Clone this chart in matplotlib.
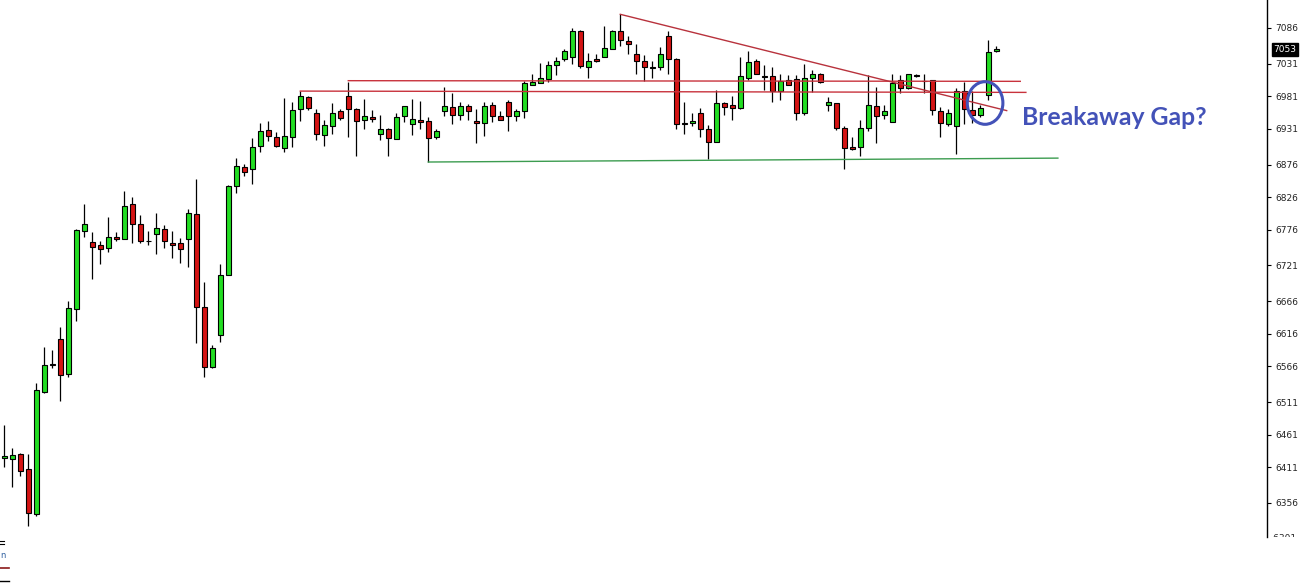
import matplotlib
matplotlib.use("Agg")
import matplotlib.pyplot as plt
from matplotlib.patches import Ellipse
from matplotlib.lines import Line2D
from matplotlib.transforms import Bbox, TransformedBbox, blended_transform_factory

# daily candles
opens = [6425, 6424, 6431, 6408, 6339, 6527, 6570, 6608, 6554, 6654,
         6774, 6757, 6752, 6748, 6764, 6761, 6816, 6784, 6759, 6770,
         6777, 6755, 6755, 6761, 6800, 6657, 6565, 6614, 6706, 6843,
         6873, 6869, 6904, 6929, 6918, 6901, 6918, 6961, 6980, 6956,
         6921, 6935, 6958, 6981, 6961, 6944, 6949, 6923, 6930, 6915,
         6950, 6938, 6944, 6943, 6918, 6958, 6964, 6953, 6966, 6943,
         6940, 6967, 6950, 6973, 6950, 6958, 6999, 7001, 7007, 7029,
         7038, 7042, 7082, 7026, 7038, 7042, 7053, 7082, 7066, 7046,
         7036, 7026, 7026, 7073, 7039, 6940, 6940, 6955, 6930, 6910,
         6970, 6967, 6963, 7009, 7035, 7012, 7012, 6989, 7006, 7007,
         6955, 7009, 7016, 6967, 6970, 6933, 6903, 6903, 6933, 6966,
         6952, 6941, 7006, 6993, 7013, 7004, 7006, 6958, 6938, 6936,
         6989, 6960, 6952, 6983, 7050]
highs = [6476, 6441, 6433, 6432, 6540, 6596, 6591, 6627, 6667, 6777,
         6816, 6772, 6758, 6796, 6772, 6836, 6826, 6799, 6774, 6802,
         6783, 6774, 6763, 6808, 6854, 6696, 6599, 6723, 6845, 6886,
         6877, 6917, 6940, 6943, 6926, 6978, 6972, 6989, 6981, 6961,
         6945, 6970, 6962, 7003, 6963, 6977, 6960, 6953, 6932, 6956,
         6966, 6977, 6974, 6949, 6930, 6995, 6986, 6973, 6969, 6961,
         6973, 6973, 6958, 6976, 6961, 7004, 7016, 7032, 7035, 7041,
         7053, 7086, 7083, 7047, 7046, 7089, 7083, 7107, 7073, 7061,
         7044, 7035, 7056, 7081, 7040, 6973, 6955, 6963, 6937, 6990,
         6972, 6981, 7041, 7050, 7038, 7029, 7026, 7015, 7013, 7013,
         7030, 7022, 7017, 6980, 6971, 6935, 6918, 6944, 7013, 6996,
         6967, 7016, 7013, 7016, 7016, 7016, 7006, 6964, 6961, 6993,
         7003, 6989, 6967, 7067, 7059]
lows = [6411, 6381, 6398, 6320, 6336, 6525, 6564, 6512, 6549, 6636,
        6765, 6700, 6724, 6741, 6758, 6761, 6755, 6755, 6753, 6739,
        6748, 6733, 6725, 6718, 6602, 6550, 6563, 6604, 6706, 6833,
        6859, 6846, 6896, 6913, 6903, 6896, 6903, 6943, 6960, 6914,
        6905, 6923, 6944, 6918, 6890, 6931, 6942, 6914, 6890, 6915,
        6942, 6921, 6930, 6880, 6915, 6950, 6938, 6944, 6944, 6909,
        6920, 6941, 6944, 6927, 6943, 6947, 6999, 7001, 7003, 7013,
        7035, 7030, 7024, 7009, 7033, 7041, 7053, 7059, 7046, 7016,
        7004, 7009, 7022, 7016, 6930, 6923, 6936, 6918, 6884, 6910,
        6953, 6944, 6962, 7006, 7015, 6990, 6973, 6976, 6998, 6944,
        6953, 6987, 7002, 6958, 6929, 6870, 6898, 6889, 6927, 6909,
        6946, 6941, 6986, 6992, 7011, 6986, 6952, 6918, 6936, 6892,
        6939, 6940, 6949, 6976, 7049]
closes = [6428, 6430, 6405, 6340, 6529, 6568, 6568, 6552, 6655, 6775,
          6785, 6750, 6747, 6764, 6761, 6812, 6784, 6758, 6758, 6778,
          6758, 6753, 6746, 6801, 6657, 6565, 6594, 6706, 6843, 6874,
          6864, 6903, 6927, 6920, 6905, 6920, 6960, 6981, 6963, 6923,
          6937, 6956, 6947, 6961, 6943, 6950, 6946, 6930, 6917, 6949,
          6966, 6946, 6941, 6917, 6927, 6966, 6953, 6966, 6958, 6940,
          6966, 6950, 6944, 6950, 6958, 7001, 7003, 7009, 7029, 7036,
          7050, 7082, 7027, 7036, 7036, 7055, 7082, 7067, 7061, 7036,
          7026, 7024, 7046, 7038, 6938, 6938, 6943, 6930, 6910, 6970,
          6964, 6963, 7012, 7033, 7016, 7010, 6989, 7004, 6999, 6956,
          7009, 7016, 7003, 6972, 6932, 6901, 6900, 6932, 6967, 6950,
          6958, 7001, 6993, 7015, 7012, 7004, 6960, 6940, 6955, 6989,
          6961, 6952, 6963, 7049, 7053]

price_ticks = [7086, 7031, 6981, 6931, 6876, 6826, 6776, 6721, 6666,
               6616, 6566, 6511, 6461, 6411, 6356]
last_price = 7053

# drawn lines: (start bar, start price, end bar, end price)
resistance_hi = (43, 7005, 127.0, 7004)
resistance_lo = (37, 6989, 127.7, 6987)
trend_line = (77, 7107, 125.3, 6959)
support_line = (53, 6880, 131.7, 6886)

green = "#22dd22"
red = "#d41414"
blue = "#4352b8"

fig = plt.figure(figsize=(13.01, 5.84), dpi=100)
ax = fig.add_axes([0, 47 / 584, 1267 / 1301, 537 / 584])

n = len(opens)
x = list(range(n))
body_bottom = [min(o, c) for o, c in zip(opens, closes)]
body_height = [max(abs(c - o), 0.6) for o, c in zip(opens, closes)]
colors = [green if c >= o else red for o, c in zip(opens, closes)]

ax.vlines(x, lows, highs, color="black", linewidth=0.9, zorder=2)
ax.bar(x, body_height, bottom=body_bottom, width=0.62, color=colors,
       edgecolor="black", linewidth=0.8, zorder=3)

for seg, col in [(resistance_hi, "#c8323c"), (resistance_lo, "#c8323c"),
                 (trend_line, "#b8323c"), (support_line, "#3c9c50")]:
    ax.plot([seg[0], seg[2]], [seg[1], seg[3]], color=col, linewidth=1.0, zorder=4)

ax.add_patch(Ellipse((122.6, 6970.7), 4.45, 65.5, fill=False,
                     edgecolor=blue, linewidth=2.2, zorder=5))
ax.text(127.2, 6949, "Breakaway Gap?", color=blue, fontsize=17.8,
        fontweight="bold", family=["Lato", "DejaVu Sans"], va="center", ha="left")

ax.set_xlim(-0.5375, 157.84)
ax.set_ylim(6303.7, 7129.0)

for s in ["left", "top", "bottom"]:
    ax.spines[s].set_visible(False)
ax.spines["right"].set_linewidth(1.0)
ax.set_xticks([])
ax.yaxis.tick_right()
ax.set_yticks(price_ticks)
ax.set_yticklabels([str(t) for t in price_ticks])
ax.tick_params(axis="y", labelsize=6.5, length=3, width=0.8, pad=3, labelcolor="#222222")

trans = blended_transform_factory(ax.transAxes, ax.transData)
ax.text(1.005, last_price, str(last_price), transform=trans, color="white",
        fontsize=6.5, va="center", ha="left",
        bbox=dict(boxstyle="square,pad=0.2", facecolor="black", edgecolor="black"))

# bottom label cut off by the pane edge
t = ax.text(1.0, 6301, "- 6301", transform=trans, fontsize=6.5, va="center",
            ha="left", clip_on=True, color="#222222")
t.set_clip_box(TransformedBbox(Bbox([[1.0, 0.0], [1.2, 1.0]]), ax.transAxes))

# legend scraps of the lower pane
fig.add_artist(Line2D([0, 4 / 1301], [1 - 541 / 584] * 2, color="black", linewidth=0.8))
fig.add_artist(Line2D([0, 4 / 1301], [1 - 544 / 584] * 2, color="black", linewidth=0.8))
fig.text(0, 1 - 556 / 584, "n", color="#3060a0", fontsize=6, va="center")
fig.add_artist(Line2D([0, 9 / 1301], [1 - 568 / 584] * 2, color="#8b1a1a", linewidth=1.2))
fig.add_artist(Line2D([0, 9 / 1301], [1 - 581 / 584] * 2, color="black", linewidth=1.0))

fig.savefig("out.png", dpi=100)
